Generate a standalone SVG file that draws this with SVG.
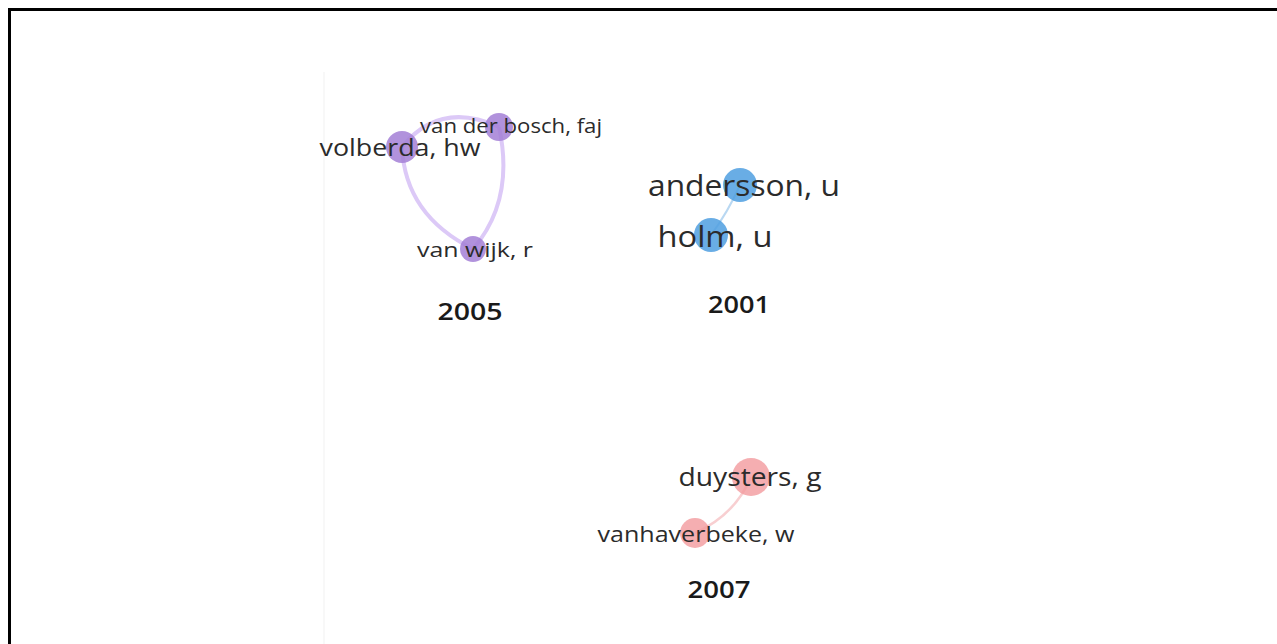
<svg xmlns="http://www.w3.org/2000/svg" width="1277" height="644" viewBox="0 0 1277 644">
  <style>
    .lbl { font-family: "Open Sans", "DejaVu Sans", sans-serif; fill: #2b2b2b; text-anchor: middle; }
    .yr { font-family: "Open Sans", "DejaVu Sans", sans-serif; fill: #1a1a1a; text-anchor: middle; font-weight: 600; font-size: 24px; }
    .p { fill: #a37fd6; fill-opacity: 0.85; }
    .b { fill: #4f9fe0; fill-opacity: 0.85; }
    .r { fill: #f29a9e; fill-opacity: 0.8; }
    .ep { fill: none; stroke: #dcc9f7; stroke-width: 4; }
    .eb { fill: none; stroke: #b9d8f2; stroke-width: 2; }
    .er { fill: none; stroke: #f8cfd1; stroke-width: 2.5; }
  </style>
  <rect x="0" y="0" width="1277" height="644" fill="#ffffff"/>
  <line x1="324" y1="72" x2="324" y2="644" stroke="#f6f6f6" stroke-width="1.5"/>
  <path d="M9.5 644 V9.5 H1277" fill="none" stroke="#000" stroke-width="3"/>

  <g id="edges">
    <path class="ep" d="M402 147 Q440 100 499 127"/>
    <path class="ep" d="M402 147 Q405 215 473 249"/>
    <path class="ep" d="M499 127 Q515 200 473 249"/>
    <path class="eb" d="M740 185 Q728 212 711 235"/>
    <path class="er" d="M751 477 Q735 515 695 533"/>
  </g>

  <g id="n-volberda">
    <circle class="p" cx="402" cy="147" r="16"/>
    <text class="lbl" x="400" y="156" font-size="23" textLength="161" lengthAdjust="spacingAndGlyphs">volberda, hw</text>
  </g>
  <g id="n-vanderbosch">
    <circle class="p" cx="499" cy="127" r="14"/>
    <text class="lbl" x="511" y="133" font-size="20" textLength="182" lengthAdjust="spacingAndGlyphs">van der bosch, faj</text>
  </g>
  <g id="n-vanwijk">
    <circle class="p" cx="473" cy="249" r="13"/>
    <text class="lbl" x="475" y="257" font-size="20" textLength="116" lengthAdjust="spacingAndGlyphs">van wijk, r</text>
  </g>
  <g id="n-andersson">
    <circle class="b" cx="740" cy="185" r="17"/>
    <text class="lbl" x="744" y="196" font-size="30" textLength="192" lengthAdjust="spacingAndGlyphs">andersson, u</text>
  </g>
  <g id="n-holm">
    <circle class="b" cx="711" cy="235" r="17"/>
    <text class="lbl" x="715" y="247" font-size="30" textLength="115" lengthAdjust="spacingAndGlyphs">holm, u</text>
  </g>
  <g id="n-duysters">
    <circle class="r" cx="751" cy="477" r="19"/>
    <text class="lbl" x="750" y="486" font-size="26" textLength="143" lengthAdjust="spacingAndGlyphs">duysters, g</text>
  </g>
  <g id="n-vanhaverbeke">
    <circle class="r" cx="695" cy="533" r="15"/>
    <text class="lbl" x="696" y="542" font-size="22" textLength="197" lengthAdjust="spacingAndGlyphs">vanhaverbeke, w</text>
  </g>

  <g id="years">
    <text class="yr" x="470" y="320" textLength="65" lengthAdjust="spacingAndGlyphs">2005</text>
    <text class="yr" x="739" y="313" textLength="62" lengthAdjust="spacingAndGlyphs">2001</text>
    <text class="yr" x="719" y="598" textLength="63" lengthAdjust="spacingAndGlyphs">2007</text>
  </g>
</svg>
